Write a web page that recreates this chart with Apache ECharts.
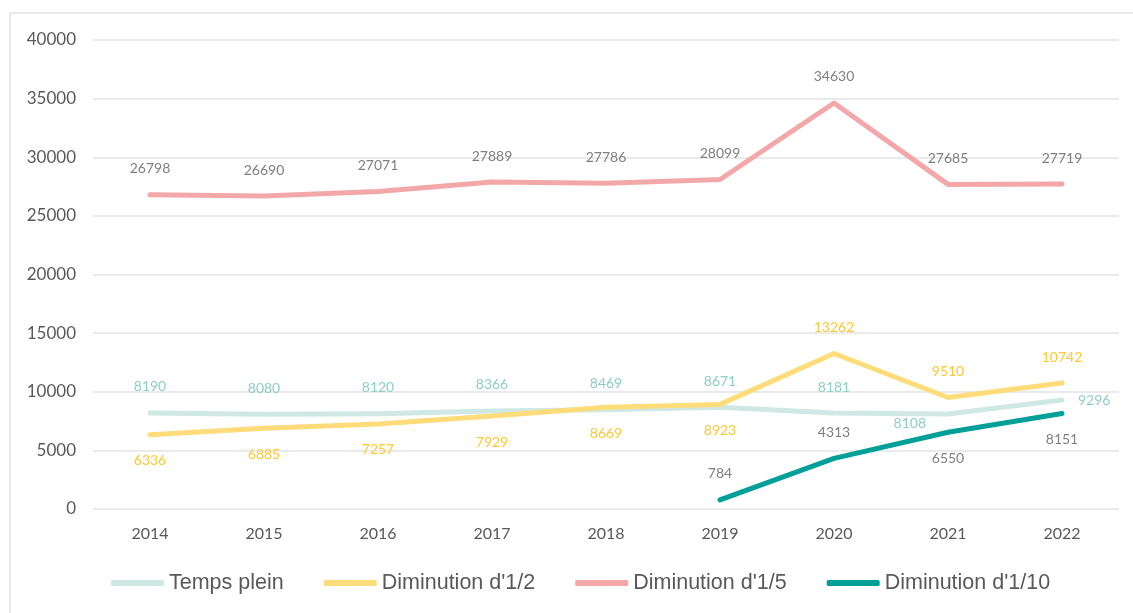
<!DOCTYPE html>
<html>
<head>
<meta charset="utf-8">
<script src="https://cdn.jsdelivr.net/npm/echarts@6/dist/echarts.min.js"></script>
<style>
  html, body { margin: 0; padding: 0; background: #fff; }
  #main { width: 1133px; height: 613px; }
</style>
</head>
<body>
<div id="main"></div>
<script>
// données
var years = ['2014', '2015', '2016', '2017', '2018', '2019', '2020', '2021', '2022'];
var tempsPlein = [8190, 8080, 8120, 8366, 8469, 8671, 8181, 8108, 9296];
var dimDemi = [6336, 6885, 7257, 7929, 8669, 8923, 13262, 9510, 10742];
var dimCinquieme = [26798, 26690, 27071, 27889, 27786, 28099, 34630, 27685, 27719];
var dimDixieme = [null, null, null, null, null, 784, 4313, 6550, 8151];
var yTicks = [0, 5000, 10000, 15000, 20000, 25000, 30000, 35000, 40000];

// position des étiquettes
var posTemps = ['top', 'top', 'top', 'top', 'top', 'top', 'top', 'bottomLeft', 'right'];
var posDemi = ['bottom', 'bottom', 'bottom', 'bottom', 'bottom', 'bottom', 'top', 'top', 'top'];
var posDixieme = ['top', 'top', 'top', 'top', 'top', 'top', 'top', 'bottom', 'bottom'];

var labelFont = 'Lato, "Noto Sans", sans-serif';

function withLabels(values, positions) {
    var out = [];
    for (var i = 0; i < values.length; i++) {
        var item = { value: values[i] };
        if (positions) {
            item.label = { position: positions[i] };
            if (positions[i] == 'bottomLeft') {
                // sous le point, décalé vers la gauche
                item.label.position = [-22, 3];
                item.label.align = 'right';
                item.label.verticalAlign = 'top';
            }
            if (positions[i] == 'right') {
                item.label.distance = 16;
            }
        }
        out.push(item);
    }
    return out;
}

function lineSerie(name, values, color, labelColor, positions) {
    return {
        name: name,
        type: 'line',
        data: withLabels(values, positions),
        symbol: 'circle',
        symbolSize: 0,
        showSymbol: true,
        lineStyle: { color: color, width: 5, cap: 'round', join: 'round' },
        itemStyle: { color: color },
        label: {
            show: true,
            position: 'top',
            distance: 19,
            color: labelColor,
            fontSize: 14,
            fontFamily: labelFont
        },
        labelLayout: { hideOverlap: false },
        emphasis: { disabled: true },
        animation: false
    };
}

var myChart = echarts.init(document.getElementById('main'));
var option = {
    backgroundColor: '#fff',
    grid: { left: 93, right: 14, top: 40, bottom: 104 },
    graphic: [
        { type: 'line', shape: { x1: 10, y1: 13, x2: 1133, y2: 13 }, style: { stroke: '#e0e0e0', lineWidth: 1.5 } },
        { type: 'line', shape: { x1: 10, y1: 13, x2: 10, y2: 613 }, style: { stroke: '#e0e0e0', lineWidth: 1.5 } }
    ],
    legend: {
        top: 567,
        left: 106,
        itemGap: 40,
        itemWidth: 53,
        itemHeight: 6,
        icon: 'roundRect',
        textStyle: {
            fontSize: 21.5,
            color: '#595959',
            fontFamily: '"Liberation Sans", Arial, sans-serif'
        },
        data: ['Temps plein', "Diminution d'1/2", "Diminution d'1/5", "Diminution d'1/10"]
    },
    xAxis: {
        type: 'category',
        data: years,
        boundaryGap: true,
        axisLine: { show: false },
        axisTick: { show: false },
        axisLabel: { color: '#595959', fontSize: 16, fontFamily: labelFont, margin: 17 }
    },
    yAxis: {
        type: 'value',
        min: yTicks[0],
        max: yTicks[yTicks.length - 1],
        interval: 5000,
        axisLine: { show: false },
        axisTick: { show: false },
        axisLabel: {
            color: '#595959', fontSize: 17, fontFamily: labelFont, margin: 17,
            formatter: function (v) { return String(v); }
        },
        splitLine: { lineStyle: { color: '#e3e3e3', width: 1.5 } }
    },
    series: [
        lineSerie('Temps plein', tempsPlein, '#cfe8e4', '#8ccfc5', posTemps),
        lineSerie("Diminution d'1/2", dimDemi, '#ffdc7a', '#ffc832', posDemi),
        lineSerie("Diminution d'1/5", dimCinquieme, '#f4a7a9', '#7f7f7f', null),
        lineSerie("Diminution d'1/10", dimDixieme, '#00a099', '#7f7f7f', posDixieme)
    ]
};

// pour echarts
myChart.setOption(option);
</script>
</body>
</html>
